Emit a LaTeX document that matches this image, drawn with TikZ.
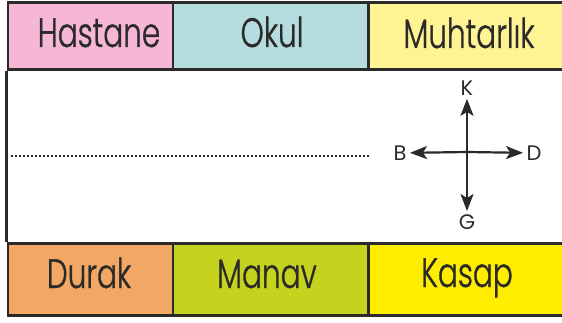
\documentclass[tikz,border=0pt]{standalone}
\usepackage{fontspec}
\setmainfont{Poppins}
\newfontfamily\signfont[FakeStretch=0.72, FakeBold=0.8]{Poppins Light}
\usetikzlibrary{arrows.meta}
\definecolor{frame}{HTML}{2B2A29}
\definecolor{pinkbox}{HTML}{F6B7D6}
\definecolor{bluebox}{HTML}{B5DDE0}
\definecolor{paleyellow}{HTML}{FFF494}
\definecolor{orangebox}{HTML}{F3A765}
\definecolor{limebox}{HTML}{C6D31E}
\definecolor{yellowbox}{HTML}{FFED00}
\begin{document}
\begin{tikzpicture}[x=1pt, y=-1pt, every node/.style={text=frame},
  cell/.style={draw=frame, line width=2.6pt, anchor=north west, inner sep=0pt},
  toprow/.style={cell, minimum height=67pt},
  bottomrow/.style={cell, minimum height=72pt},
  sign/.style={anchor=base, font=\signfont\fontsize{41}{41}\selectfont},
  dir/.style={font=\fontsize{21}{21}\selectfont},
  arr/.style={-{Stealth[length=17pt,width=13pt,inset=4pt]}, line width=2.2pt, draw=frame}]
\clip (0,0) rectangle (562,323);
% top row
\node[toprow, fill=pinkbox, minimum width=165pt] (hastanebox) at (6.5,1.5) {};
\node[toprow, fill=bluebox, minimum width=195.5pt] (okulbox) at (171.5,1.5) {};
\node[toprow, fill=paleyellow, minimum width=200pt] (muhtarbox) at (367,1.5) {};
% bottom row
\node[bottomrow, fill=orangebox, minimum width=165pt] (durakbox) at (6.5,242) {};
\node[bottomrow, fill=limebox, minimum width=195.5pt] (manavbox) at (171.5,242) {};
\node[bottomrow, fill=yellowbox, minimum width=200pt] (kasapbox) at (367,242) {};
\draw[frame, line width=2.6pt] (hastanebox.south west) -- (durakbox.north west);
% names
\node[sign] (hastane) at (99,47) {Hastane};
\node[sign] (okul) at (272,47) {Okul};
\node[sign] (muhtar) at (469,48) {Muhtarlık};
\node[sign] (durak) at (89,288) {Durak};
\node[sign] (manav) at (267,288) {Manav};
\node[sign] (kasap) at (467,287) {Kasap};
% dotted line
\coordinate (dotstart) at (11,156);
\coordinate (dotend) at (369,156);
\draw[frame, line width=2pt, dash pattern=on 2pt off 2pt] (dotstart) -- (dotend);
% compass
\coordinate (centre) at (467,152);
\node[dir] (k) at (467,88) {K};
\node[dir] (g) at (467,222) {G};
\node[dir] (b) at (400,153) {B};
\node[dir] (d) at (534,153) {D};
\draw[arr] (centre) -- (k);
\draw[arr] (centre) -- (g);
\draw[arr] (centre) -- (b);
\draw[arr] (centre) -- (d);
\end{tikzpicture}
\end{document}
